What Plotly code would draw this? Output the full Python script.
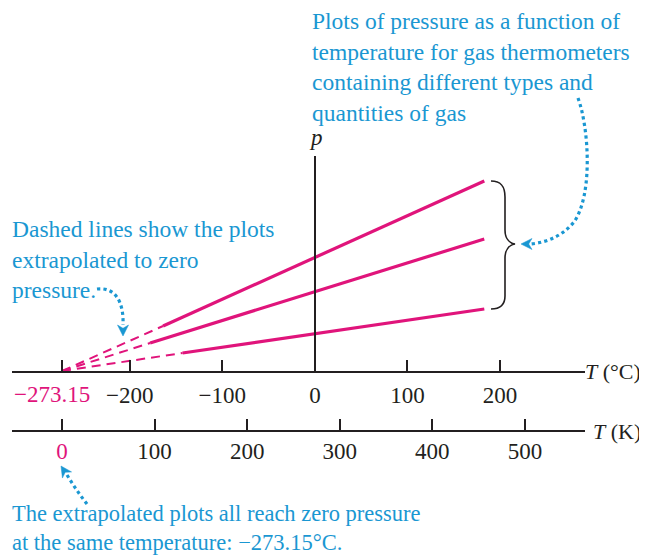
import plotly.graph_objects as go

# ---------------- data ----------------
T_abs_zero_C = -273.15                      # where all extrapolations meet (°C)
T_solid_start_C = [-164, -178, -143]        # start of measured (solid) part
T_end_C = [183, 183, 183]                   # end of measured part
p_solid_start = [0.45, 0.28, 0.18]          # pressure at start of solid part (arb. units)
p_end = [1.90, 1.32, 0.62]                  # pressure at end of solid part
celsius_ticks = [-273.15, -200, -100, 0, 100, 200]
celsius_labels = ["−273.15", "−200", "−100", "0", "100", "200"]
kelvin_ticks = [0, 100, 200, 300, 400, 500]
kelvin_labels = ["0", "100", "200", "300", "400", "500"]

# ---------------- style ----------------
OFF = 8                      # page body margin in the browser
W, H = 647 - OFF, 556 - OFF
# plot area in screen (reference) pixels
X0, X1, Y0, Y1 = 12, 585, 156, 431
L, R, T, B = X0 - OFF, W - (X1 - OFF), Y0 - OFF, H - (Y1 - OFF)
MAG = "#E0147B"
BLUE = "#1A97D2"
INK = "#231F20"
FONT = "Liberation Serif, Times New Roman, serif"
x_range = [-327.2, 291.8]
y_range = [0, 2.15]
K_OFF = 273.15

PW = X1 - X0
PH = Y1 - Y0


def px(x):
    return (x - X0) / PW


def py(y):
    return (Y1 - y) / PH


def P(x, y):
    return f"{px(x):.5f},{py(y):.5f}"


fig = go.Figure()

for i in range(len(p_end)):
    fig.add_trace(go.Scatter(
        x=[T_abs_zero_C, T_solid_start_C[i]], y=[0, p_solid_start[i]],
        mode="lines", line=dict(color=MAG, width=2, dash="9px,6px"),
        hoverinfo="skip", showlegend=False))
    fig.add_trace(go.Scatter(
        x=[T_solid_start_C[i], T_end_C[i]], y=[p_solid_start[i], p_end[i]],
        mode="lines", line=dict(color=MAG, width=3.2),
        hoverinfo="skip", showlegend=False))

# invisible trace so the Kelvin axis is drawn
fig.add_trace(go.Scatter(x=kelvin_ticks, y=[0] * len(kelvin_ticks), xaxis="x2",
                         mode="markers", marker=dict(opacity=0),
                         hoverinfo="skip", showlegend=False))

# the absolute-zero Celsius label is set slightly left of its tick (annotation below)
ctext = [""] + celsius_labels[1:]
ktext = [f'<span style="color:{MAG}">{kelvin_labels[0]}</span>'] + kelvin_labels[1:]

TICK_SIZE = 23
axis_common = dict(showgrid=False, zeroline=False, showline=True, linecolor=INK,
                   linewidth=1.6, ticks="inside", ticklen=11, tickwidth=1.5,
                   tickcolor=INK, tickfont=dict(family=FONT, size=TICK_SIZE, color=INK),
                   fixedrange=True, automargin=False, tickangle=0)

fig.update_layout(
    width=W, height=H,
    margin=dict(l=L, r=R, t=T, b=B, pad=0, autoexpand=False),
    paper_bgcolor="white", plot_bgcolor="white",
    font=dict(family=FONT),
    xaxis=dict(range=x_range, tickmode="array", tickvals=celsius_ticks,
               ticktext=ctext, anchor="y", side="bottom",
               ticklabelstandoff=3, **axis_common),
    xaxis2=dict(range=[x_range[0] + K_OFF, x_range[1] + K_OFF], tickmode="array",
                tickvals=kelvin_ticks, ticktext=ktext, overlaying="x",
                anchor="free", position=0, side="bottom",
                ticklabelstandoff=0, **axis_common),
    yaxis=dict(range=y_range, domain=[py(371), 1], anchor="free",
               position=(0 - x_range[0]) / (x_range[1] - x_range[0]),
               showgrid=False, zeroline=False, showline=True, linecolor=INK,
               linewidth=1.6, ticks="", showticklabels=False, fixedrange=True,
               automargin=False),
)

fig.add_annotation(xref="x", yref="paper", x=celsius_ticks[0], y=py(394),
                   text=celsius_labels[0], showarrow=False, xshift=-10,
                   font=dict(family=FONT, size=TICK_SIZE, color=MAG),
                   xanchor="center", yanchor="middle")

ann_font = dict(family=FONT, size=23.5, color=BLUE)
annotations = [
    dict(text="Plots of pressure as a function of<br>temperature for gas thermometers<br>"
              "containing different types and<br>quantities of gas",
         x=px(310), y=py(6), xanchor="left", yanchor="top", align="left"),
    dict(text="Dashed lines show the plots<br>extrapolated to zero<br>pressure.",
         x=px(10), y=py(214), xanchor="left", yanchor="top", align="left"),
    dict(text="The extrapolated plots all reach zero pressure<br>at the same temperature: −273.15°C.",
         x=px(10), y=py(499), xanchor="left", yanchor="top", align="left",
         font=dict(family=FONT, size=22.5, color=BLUE)),
]
for a in annotations:
    a.setdefault("font", ann_font)
    fig.add_annotation(xref="paper", yref="paper", showarrow=False, **a)

lab_font = dict(family=FONT, size=22, color=INK)
fig.add_annotation(xref="paper", yref="paper", x=px(316), y=py(137), text="<i>p</i>",
                   showarrow=False, font=dict(family=FONT, size=23, color=INK),
                   xanchor="center", yanchor="middle")
fig.add_annotation(xref="paper", yref="paper", x=px(643), y=py(371), text="<i>T</i> (°C)",
                   showarrow=False, font=lab_font, xanchor="right", yanchor="middle")
fig.add_annotation(xref="paper", yref="paper", x=px(643), y=py(431), text="<i>T</i> (K)",
                   showarrow=False, font=lab_font, xanchor="right", yanchor="middle")

# curly brace
brace = ("M " + P(491, 181) + " C " + P(501, 181) + " " + P(505, 186) + " " + P(505, 197)
         + " L " + P(505, 230) + " C " + P(505, 238) + " " + P(509, 243) + " " + P(515, 244)
         + " C " + P(509, 245) + " " + P(505, 250) + " " + P(505, 258)
         + " L " + P(505, 296) + " C " + P(505, 304) + " " + P(501, 309) + " " + P(491, 309))
fig.add_shape(type="path", xref="paper", yref="paper", path=brace,
              line=dict(color=INK, width=1.6))

# dotted arrows
dots = [
    "M " + P(578, 98) + " C " + P(589, 128) + " " + P(593, 195) + " " + P(574, 222)
    + " Q " + P(558, 241) + " " + P(531, 244),
    "M " + P(97, 289) + " C " + P(114, 287) + " " + P(124, 300) + " " + P(123, 325),
    "M " + P(87, 504) + " Q " + P(76, 490) + " " + P(67, 475),
]
for d in dots:
    fig.add_shape(type="path", xref="paper", yref="paper", path=d,
                  line=dict(color=BLUE, width=3.2, dash="dot"))


def head(tip, base_c, half):
    tx, ty = tip
    bx, by = base_c
    dx, dy = tx - bx, ty - by
    n = (dx * dx + dy * dy) ** 0.5
    ux, uy = -dy / n * half, dx / n * half
    notch = (bx + dx * 0.3, by + dy * 0.3)
    return ("M " + P(tx, ty) + " L " + P(bx + ux, by + uy) + " L " + P(*notch)
            + " L " + P(bx - ux, by - uy) + " Z")


for tip, base in [((521, 244), (532, 244)), ((123, 336), (123, 325)), ((61, 466), (67, 475))]:
    fig.add_shape(type="path", xref="paper", yref="paper", path=head(tip, base, 5.5),
                  fillcolor=BLUE, line=dict(color=BLUE, width=0.5))

fig.write_html("out.html")
